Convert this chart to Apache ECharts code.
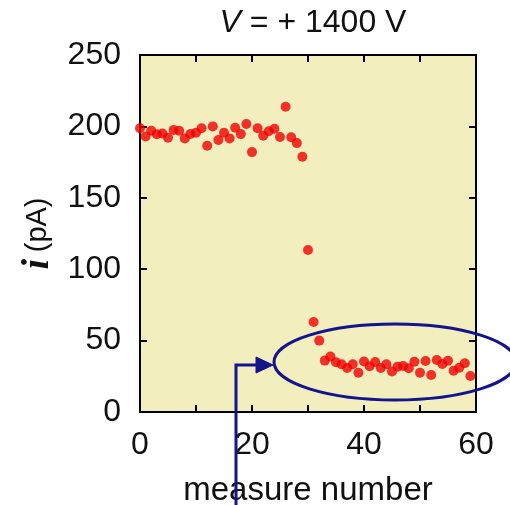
<!DOCTYPE html>
<html>
<head>
<meta charset="utf-8">
<script src="https://cdn.jsdelivr.net/npm/echarts@6/dist/echarts.min.js"></script>
<style>
  html, body { margin: 0; padding: 0; background: #ffffff; }
  #chart { width: 510px; height: 505px; }
</style>
</head>
<body>
<div id="chart"></div>
<script>
// Measured current i (pA) for each measure number at V = +1400 V
const measureNumbers = [
  0, 1, 2, 3, 4, 5, 6, 7, 8, 9,
  10, 11, 12, 13, 14, 15, 16, 17, 18, 19,
  20, 21, 22, 23, 24, 25, 26, 27, 28, 29,
  30, 31, 32, 33, 34, 35, 36, 37, 38, 39,
  40, 41, 42, 43, 44, 45, 46, 47, 48, 49,
  50, 51, 52, 53, 54, 55, 56, 57, 58, 59
];
const currents = [
  198.7, 193, 197, 194.5, 195, 192, 197.5, 197, 191.6, 194.7,
  195.6, 198.7, 186.5, 200, 190.5, 195.6, 191.6, 199, 194.6, 201.7,
  182, 198.7, 193.4, 196.6, 198.4, 192.6, 213.8, 192.4, 188.3, 178.8,
  113.4, 63, 50, 36, 38.8, 34.8, 33.4, 30.8, 33.4, 27.5,
  35.4, 32, 35, 30.8, 33.5, 28.4, 31.7, 32.2, 30.6, 35.2,
  27.5, 35.7, 25.9, 36.4, 33.6, 35.9, 28.9, 31, 34.1, 25.2
];
const xTicks = [0, 20, 40, 60];
const yTicks = [0, 50, 100, 150, 200, 250];

const points = measureNumbers.map((n, k) => [n, currents[k]]);

const ink = '#000000';
const markBlue = '#14148c';
const sans = 'Liberation Sans, Arial, Helvetica, sans-serif';

const chart = echarts.init(document.getElementById('chart'), null, { renderer: 'canvas' });

function frameAxis(extra) {
  return Object.assign({
    type: 'value',
    axisLine: { show: true, onZero: false, lineStyle: { color: ink, width: 2 } },
    axisTick: { show: true, inside: true, length: 7, lineStyle: { color: ink, width: 2 } },
    splitLine: { show: false }
  }, extra);
}

const option = {
  animation: false,
  backgroundColor: '#ffffff',
  title: {
    text: '{v|V} = + 1400 V',
    left: 308,
    top: 2,
    textAlign: 'center',
    textStyle: {
      fontFamily: sans,
      fontSize: 32,
      fontWeight: 'normal',
      color: '#111',
      rich: {
        v: { fontFamily: sans, fontSize: 32, fontStyle: 'italic', color: '#111' }
      }
    }
  },
  grid: {
    left: 140, right: 34, top: 55, bottom: 93,
    outerBoundsMode: 'none',
    containLabel: false,
    show: true, backgroundColor: '#f3eebe', borderWidth: 0
  },
  xAxis: [
    frameAxis({
      position: 'bottom', min: 0, max: 60, interval: 10,
      name: 'measure number', nameLocation: 'middle', nameGap: 62,
      nameTextStyle: { fontFamily: sans, fontSize: 33, color: '#111' },
      axisLabel: {
        show: true, margin: 17, fontFamily: sans, fontSize: 32, color: '#111',
        formatter: v => (xTicks.indexOf(v) >= 0 ? String(v) : '')
      }
    }),
    frameAxis({ position: 'top', min: 0, max: 60, interval: 10, axisLabel: { show: false } })
  ],
  yAxis: [
    frameAxis({
      position: 'left', min: 0, max: 250, interval: 50,
      name: '{i|i}  {u|(pA)}', nameLocation: 'middle', nameGap: 82, nameRotate: 90,
      nameTextStyle: {
        rich: {
          i: { fontFamily: 'Liberation Serif, Times New Roman, serif', fontStyle: 'italic', fontWeight: 'bold', fontSize: 38, color: '#111' },
          u: { fontFamily: sans, fontSize: 29, color: '#111' }
        }
      },
      axisLabel: {
        show: true, margin: 19, fontFamily: sans, fontSize: 32, color: '#111',
        formatter: v => (yTicks.indexOf(v) >= 0 ? String(v) : '')
      }
    }),
    frameAxis({ position: 'right', min: 0, max: 250, interval: 50, axisLabel: { show: false } })
  ],
  series: [{
    type: 'scatter',
    xAxisIndex: 0,
    yAxisIndex: 0,
    data: points,
    symbol: 'circle',
    symbolSize: 10,
    itemStyle: { color: '#f00000' },
    clip: false
  }],
  graphic: [
    {
      type: 'ellipse',
      shape: { cx: 395, cy: 362, rx: 121, ry: 38 },
      style: { fill: 'none', stroke: markBlue, lineWidth: 3 },
      z: 100
    },
    {
      type: 'polyline',
      shape: { points: [[236, 505], [236, 365], [258, 365]] },
      style: { fill: 'none', stroke: markBlue, lineWidth: 3 },
      z: 100
    },
    {
      type: 'polygon',
      shape: { points: [[256, 357], [273, 365], [256, 373]] },
      style: { fill: markBlue, stroke: markBlue, lineWidth: 1 },
      z: 100
    }
  ]
};

chart.setOption(option);
</script>
</body>
</html>
